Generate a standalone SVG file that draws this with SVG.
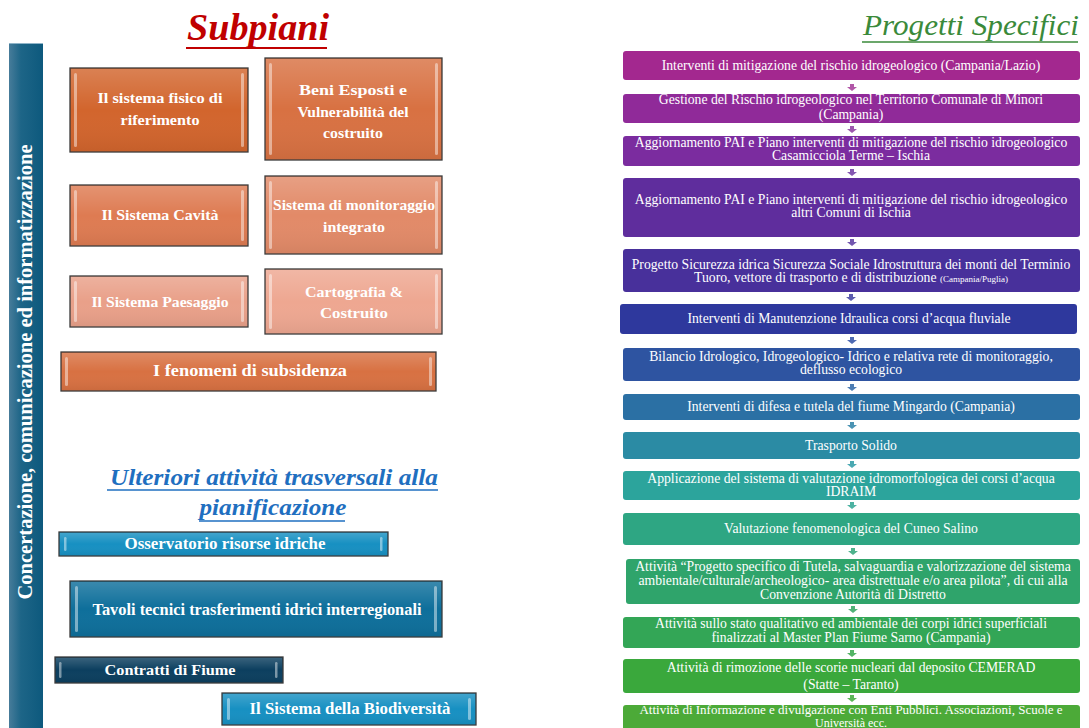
<svg xmlns="http://www.w3.org/2000/svg" width="1089" height="728" viewBox="0 0 1089 728">
<defs>
<linearGradient id="bar" x1="0" y1="0" x2="1" y2="0">
<stop offset="0" stop-color="#477c9a"/><stop offset="0.35" stop-color="#1d6587"/><stop offset="1" stop-color="#0d597d"/>
</linearGradient>
<linearGradient id="sheen" x1="0" y1="0" x2="0" y2="1">
<stop offset="0" stop-color="#ffffff" stop-opacity="0.18"/><stop offset="0.5" stop-color="#ffffff" stop-opacity="0"/><stop offset="1" stop-color="#000000" stop-opacity="0.06"/>
</linearGradient>
</defs>
<style>
.bx{stroke:#3b3b3b;stroke-width:1.3}
.sh{fill:url(#sheen)}
.hl{fill:#ffffff;fill-opacity:0.45}
.lt{font-family:"Liberation Serif","Times New Roman",serif;font-weight:bold;fill:#ffffff;text-anchor:middle}
.rt{font-family:"Liberation Serif","Times New Roman",serif;fill:#ffffff;text-anchor:middle;font-size:13.7px}
.ar{fill-opacity:0.85}
</style>

<rect width="1089" height="728" fill="#ffffff"/>

<!-- titles -->
<g id="title-subpiani">
<text x="258" y="40" font-family="Liberation Serif, serif" font-style="italic" font-weight="bold" font-size="38" fill="#c00000" text-anchor="middle" textLength="142" lengthAdjust="spacingAndGlyphs">Subpiani</text>
<line x1="186" y1="48" x2="327" y2="48" stroke="#c00000" stroke-width="2"/>
</g>
<g id="title-progetti">
<text x="971" y="35" font-family="Liberation Serif, serif" font-style="italic" font-size="30" fill="#3a8a3a" text-anchor="middle" textLength="216" lengthAdjust="spacingAndGlyphs">Progetti Specifici</text>
<line x1="862" y1="42" x2="1078" y2="42" stroke="#3a8a3a" stroke-width="1.5"/>
</g>
<g id="title-ulteriori">
<text x="274" y="485" font-family="Liberation Serif, serif" font-style="italic" font-weight="bold" font-size="23" fill="#1f6fc0" text-anchor="middle" textLength="328" lengthAdjust="spacingAndGlyphs">Ulteriori attività trasversali alla</text>
<line x1="107" y1="490" x2="438" y2="490" stroke="#1f6fc0" stroke-width="1.3"/>
<text x="273" y="515" font-family="Liberation Serif, serif" font-style="italic" font-weight="bold" font-size="23" fill="#1f6fc0" text-anchor="middle" textLength="147" lengthAdjust="spacingAndGlyphs">pianificazione</text>
<line x1="199" y1="521" x2="345" y2="521" stroke="#1f6fc0" stroke-width="1.3"/>
</g>

<!-- vertical bar -->
<g id="bar-concertazione">
<rect x="9" y="43" width="34" height="685" fill="url(#bar)"/>
<line x1="9" y1="43.5" x2="43" y2="43.5" stroke="#8fb4c8" stroke-width="1"/>
<text transform="translate(32,372) rotate(-90)" x="0" y="0" font-family="Liberation Serif, serif" font-weight="bold" font-size="20" fill="#ffffff" text-anchor="middle" textLength="455" lengthAdjust="spacingAndGlyphs">Concertazione, comunicazione ed informatizzazione</text>
</g>

<!-- subpiani boxes -->
<g id="n-sistema-fisico">
<rect class="bx" x="70" y="68" width="178" height="84" fill="#d2652d"/>
<rect class="sh" x="71" y="69" width="176" height="82"/>
<rect class="hl" x="74" y="73" width="3" height="74" rx="1.5"/><rect class="hl" x="241" y="73" width="3" height="74" rx="1.5"/>
<text class="lt" font-size="14" x="160" y="103" textLength="125" lengthAdjust="spacingAndGlyphs">Il sistema fisico di</text>
<text class="lt" font-size="14" x="160" y="125" textLength="79" lengthAdjust="spacingAndGlyphs">riferimento</text>
</g>
<g id="n-beni-esposti">
<rect class="bx" x="265" y="58" width="177" height="102" fill="#d87142"/>
<rect class="sh" x="266" y="59" width="175" height="100"/>
<rect class="hl" x="269" y="63" width="3" height="92" rx="1.5"/><rect class="hl" x="435" y="63" width="3" height="92" rx="1.5"/>
<text class="lt" font-size="14" x="353" y="95" textLength="108" lengthAdjust="spacingAndGlyphs">Beni Esposti e</text>
<text class="lt" font-size="14" x="353" y="117" textLength="111" lengthAdjust="spacingAndGlyphs">Vulnerabilità del</text>
<text class="lt" font-size="14" x="353" y="138" textLength="60" lengthAdjust="spacingAndGlyphs">costruito</text>
</g>
<g id="n-cavita">
<rect class="bx" x="70" y="185" width="178" height="61" fill="#de7b52"/>
<rect class="sh" x="71" y="186" width="176" height="59"/>
<rect class="hl" x="74" y="190" width="3" height="51" rx="1.5"/><rect class="hl" x="241" y="190" width="3" height="51" rx="1.5"/>
<text class="lt" font-size="14" x="160" y="220" textLength="117" lengthAdjust="spacingAndGlyphs">Il Sistema Cavità</text>
</g>
<g id="n-monitoraggio">
<rect class="bx" x="265" y="176" width="177" height="78" fill="#e28a68"/>
<rect class="sh" x="266" y="177" width="175" height="76"/>
<rect class="hl" x="269" y="181" width="3" height="68" rx="1.5"/><rect class="hl" x="435" y="181" width="3" height="68" rx="1.5"/>
<text class="lt" font-size="14" x="354" y="210" textLength="162" lengthAdjust="spacingAndGlyphs">Sistema di monitoraggio</text>
<text class="lt" font-size="14" x="354" y="232" textLength="62" lengthAdjust="spacingAndGlyphs">integrato</text>
</g>
<g id="n-paesaggio">
<rect class="bx" x="70" y="276" width="178" height="51" fill="#e9a089"/>
<rect class="sh" x="71" y="277" width="176" height="49"/>
<rect class="hl" x="74" y="281" width="3" height="41" rx="1.5"/><rect class="hl" x="241" y="281" width="3" height="41" rx="1.5"/>
<text class="lt" font-size="14" x="160" y="307" textLength="137" lengthAdjust="spacingAndGlyphs">Il Sistema Paesaggio</text>
</g>
<g id="n-cartografia">
<rect class="bx" x="265" y="269" width="177" height="65" fill="#eea791"/>
<rect class="sh" x="266" y="270" width="175" height="63"/>
<rect class="hl" x="269" y="274" width="3" height="55" rx="1.5"/><rect class="hl" x="435" y="274" width="3" height="55" rx="1.5"/>
<text class="lt" font-size="14" x="354" y="297" textLength="98" lengthAdjust="spacingAndGlyphs">Cartografia &amp;</text>
<text class="lt" font-size="14" x="354" y="318" textLength="68" lengthAdjust="spacingAndGlyphs">Costruito</text>
</g>
<g id="n-subsidenza">
<rect class="bx" x="61" y="352" width="375" height="39" fill="#d87142"/>
<rect class="sh" x="62" y="353" width="373" height="37"/>
<rect class="hl" x="65" y="357" width="3" height="29" rx="1.5"/><rect class="hl" x="429" y="357" width="3" height="29" rx="1.5"/>
<text class="lt" font-size="17" x="250" y="376" textLength="194" lengthAdjust="spacingAndGlyphs">I fenomeni di subsidenza</text>
</g>

<!-- ulteriori boxes -->
<g id="n-osservatorio">
<rect class="bx" x="59" y="532" width="329" height="24" fill="#1790c2"/>
<rect class="sh" x="60" y="533" width="327" height="22"/>
<rect class="hl" x="64" y="537" width="2.5" height="14" rx="1.2"/><rect class="hl" x="380" y="537" width="2.5" height="14" rx="1.2"/>
<text class="lt" font-size="16" x="225" y="549" textLength="201" lengthAdjust="spacingAndGlyphs">Osservatorio risorse idriche</text>
</g>
<g id="n-tavoli">
<rect class="bx" x="70" y="581" width="372" height="56" fill="#0e6f9b"/>
<rect class="sh" x="71" y="582" width="370" height="54"/>
<rect class="hl" x="75" y="586" width="3" height="46" rx="1.5"/><rect class="hl" x="434" y="586" width="3" height="46" rx="1.5"/>
<text class="lt" font-size="16" x="257" y="615" textLength="329" lengthAdjust="spacingAndGlyphs">Tavoli tecnici trasferimenti idrici interregionali</text>
</g>
<g id="n-contratti">
<rect class="bx" x="55" y="657" width="228" height="26" fill="#0c3f5f"/>
<rect class="sh" x="56" y="658" width="226" height="24"/>
<rect class="hl" x="59" y="662" width="2.5" height="16" rx="1.2" fill-opacity="0.3"/><rect class="hl" x="275" y="662" width="2.5" height="16" rx="1.2" fill-opacity="0.3"/>
<text class="lt" font-size="15" x="170" y="675" textLength="131" lengthAdjust="spacingAndGlyphs">Contratti di Fiume</text>
</g>
<g id="n-biodiversita">
<rect class="bx" x="222" y="693" width="254" height="32" fill="#1790c2"/>
<rect class="sh" x="223" y="694" width="252" height="30"/>
<rect class="hl" x="227" y="698" width="3" height="22" rx="1.5"/><rect class="hl" x="468" y="698" width="3" height="22" rx="1.5"/>
<text class="lt" font-size="16" x="350" y="714" textLength="201" lengthAdjust="spacingAndGlyphs">Il Sistema della Biodiversità</text>
</g>

<!-- progetti specifici boxes -->
<g id="p1"><rect x="623" y="51" width="457" height="29" rx="3" fill="#a3288f"/>
<text class="rt" x="851" y="70">Interventi di mitigazione del rischio idrogeologico (Campania/Lazio)</text></g>
<g id="p2"><rect x="623" y="94" width="457" height="29" rx="3" fill="#902a99"/>
<text class="rt" x="851" y="104">Gestione del Rischio idrogeologico nel Territorio Comunale di Minori</text>
<text class="rt" x="851" y="119">(Campania)</text></g>
<g id="p3"><rect x="623" y="136" width="457" height="30" rx="3" fill="#7b2c9f"/>
<text class="rt" x="851" y="147">Aggiornamento PAI e Piano interventi di mitigazione del rischio idrogeologico</text>
<text class="rt" x="851" y="160">Casamicciola Terme – Ischia</text></g>
<g id="p4"><rect x="623" y="178" width="457" height="59" rx="3" fill="#5f2d9d"/>
<text class="rt" x="851" y="204">Aggiornamento PAI e Piano interventi di mitigazione del rischio idrogeologico</text>
<text class="rt" x="851" y="217">altri Comuni di Ischia</text></g>
<g id="p5"><rect x="623" y="249" width="457" height="43" rx="3" fill="#48309b"/>
<text class="rt" x="851" y="269">Progetto Sicurezza idrica Sicurezza Sociale Idrostruttura dei monti del  Terminio</text>
<text class="rt" x="851" y="282">Tuoro, vettore di trasporto e di distribuzione <tspan font-size="9">(Campania/Puglia)</tspan></text></g>
<g id="p6"><rect x="620" y="304" width="457" height="30" rx="3" fill="#2e389d"/>
<text class="rt" x="849" y="323">Interventi di Manutenzione Idraulica  corsi d’acqua fluviale</text></g>
<g id="p7"><rect x="623" y="348" width="457" height="33" rx="3" fill="#2e54a1"/>
<text class="rt" x="851" y="361">Bilancio Idrologico, Idrogeologico- Idrico e relativa rete di monitoraggio,</text>
<text class="rt" x="851" y="374">deflusso ecologico</text></g>
<g id="p8"><rect x="623" y="394" width="457" height="26" rx="3" fill="#2b70a4"/>
<text class="rt" x="851" y="411">Interventi di difesa e tutela del fiume Mingardo (Campania)</text></g>
<g id="p9"><rect x="623" y="432" width="457" height="27" rx="3" fill="#2b8ba4"/>
<text class="rt" x="851" y="450">Trasporto Solido</text></g>
<g id="p10"><rect x="623" y="471" width="457" height="29" rx="3" fill="#2ca49c"/>
<text class="rt" x="851" y="483">Applicazione del sistema di valutazione idromorfologica dei corsi d’acqua</text>
<text class="rt" x="851" y="496">IDRAIM</text></g>
<g id="p11"><rect x="623" y="513" width="457" height="32" rx="3" fill="#2ea683"/>
<text class="rt" x="851" y="533">Valutazione fenomenologica del Cuneo Salino</text></g>
<g id="p12"><rect x="626" y="559" width="454" height="45" rx="3" fill="#2fa46b"/>
<text class="rt" x="853" y="571">Attività “Progetto specifico di Tutela, salvaguardia e valorizzazione del sistema</text>
<text class="rt" x="853" y="585">ambientale/culturale/archeologico- area distrettuale e/o area pilota”, di cui alla</text>
<text class="rt" x="853" y="599">Convenzione Autorità di Distretto</text></g>
<g id="p13"><rect x="623" y="617" width="457" height="31" rx="3" fill="#33a656"/>
<text class="rt" x="851" y="628">Attività sullo stato qualitativo ed ambientale dei corpi idrici superficiali</text>
<text class="rt" x="851" y="642">finalizzati al Master Plan Fiume Sarno (Campania)</text></g>
<g id="p14"><rect x="623" y="659" width="457" height="34" rx="3" fill="#3aa83c"/>
<text class="rt" x="851" y="672">Attività di rimozione delle scorie nucleari dal deposito CEMERAD</text>
<text class="rt" x="851" y="689">(Statte – Taranto)</text></g>
<g id="p15"><rect x="623" y="705" width="457" height="30" rx="3" fill="#4caa38"/>
<text class="rt" x="851" y="714" style="font-size:13px">Attività di Informazione e divulgazione con Enti Pubblici. Associazioni, Scuole e</text>
<text class="rt" x="851" y="727" style="font-size:12px">Università ecc.</text></g>

<!-- connectors -->
<g id="connectors">
<path class="ar" fill="#a33a98" d="M850,84h4v3h3l-5,4l-5,-4h3z"/>
<path class="ar" fill="#8b3a9f" d="M850,126h4v3h3l-5,4l-5,-4h3z"/>
<path class="ar" fill="#6f3aa3" d="M850,169h4v3h3l-5,4l-5,-4h3z"/>
<path class="ar" fill="#5a3aa1" d="M850,239h4v3h3l-5,4l-5,-4h3z"/>
<path class="ar" fill="#4040a0" d="M849,294h4v3h3l-5,4l-5,-4h3z"/>
<path class="ar" fill="#3050a4" d="M850,337h4v3h3l-5,4l-5,-4h3z"/>
<path class="ar" fill="#2e66a6" d="M850,384h4v3h3l-5,4l-5,-4h3z"/>
<path class="ar" fill="#2c80a6" d="M850,422h4v3h3l-5,4l-5,-4h3z"/>
<path class="ar" fill="#2c9aa4" d="M850,461h4v3h3l-5,4l-5,-4h3z"/>
<path class="ar" fill="#2ea592" d="M850,502h4v3h3l-5,4l-5,-4h3z"/>
<path class="ar" fill="#2fa578" d="M851,548h4v3h3l-5,4l-5,-4h3z"/>
<path class="ar" fill="#31a560" d="M851,606h4v3h3l-5,4l-5,-4h3z"/>
<path class="ar" fill="#36a74a" d="M850,650h4v3h3l-5,4l-5,-4h3z"/>
<path class="ar" fill="#40a93a" d="M850,695h4v3h3l-5,4l-5,-4h3z"/>
</g>
</svg>
